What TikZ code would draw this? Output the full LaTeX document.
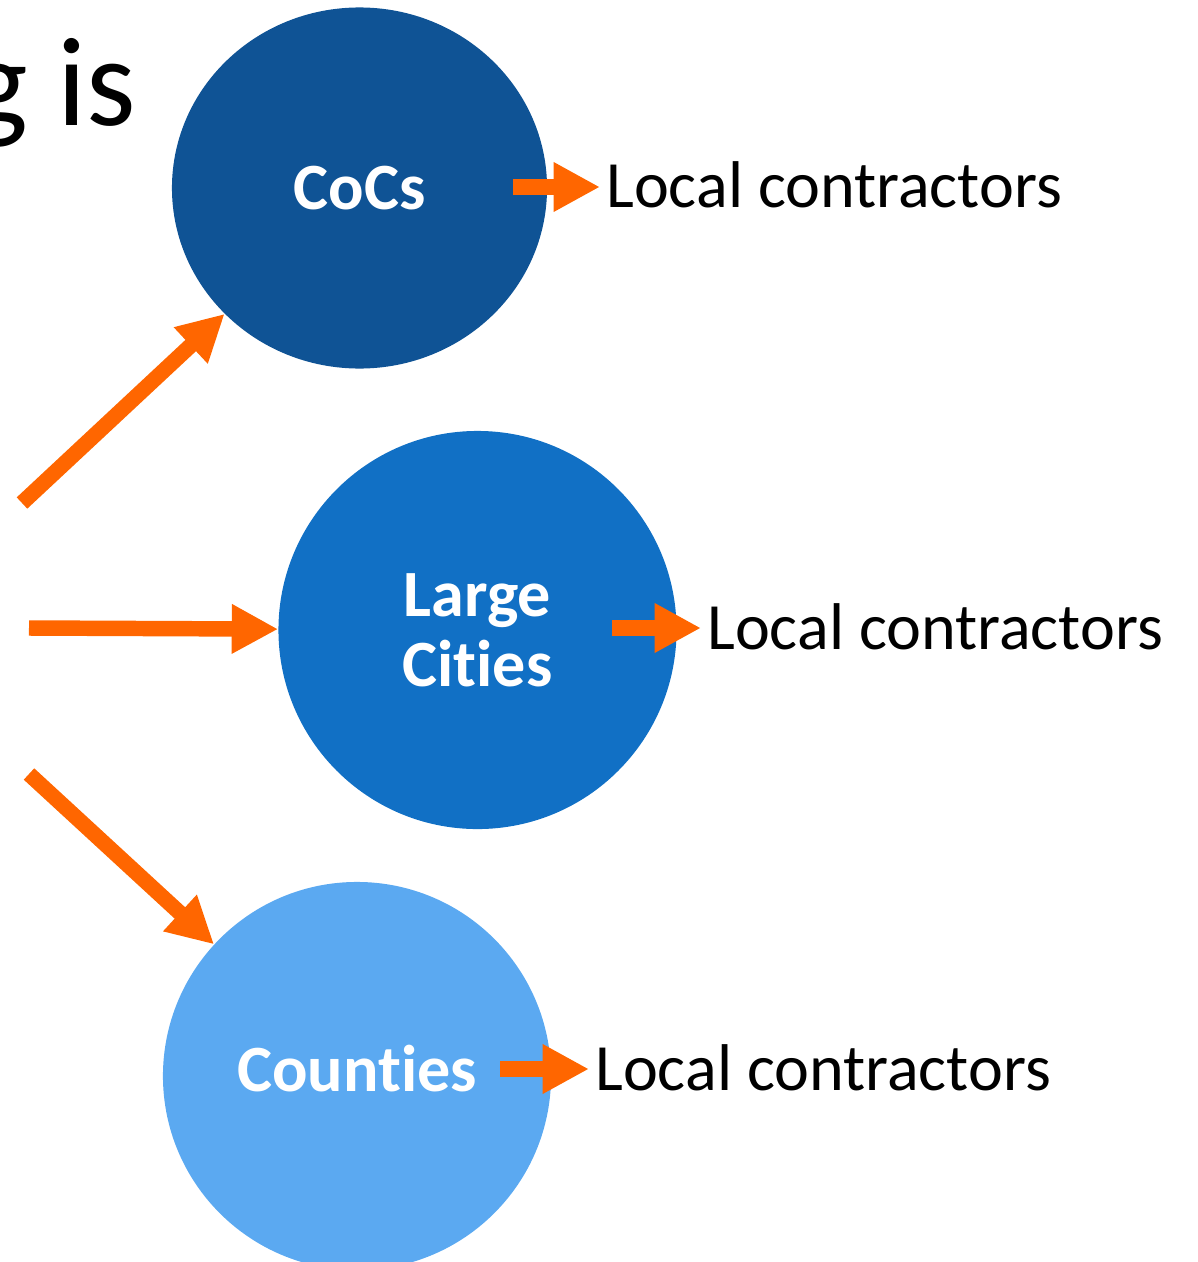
\documentclass[tikz,border=0pt]{standalone}
\usepackage{fontspec}
\setmainfont{Carlito}[Ligatures=NoCommon]
\usetikzlibrary{arrows.meta,shapes.geometric}
\definecolor{cocblue}{HTML}{0F5395}
\definecolor{cityblue}{HTML}{1170C5}
\definecolor{countyblue}{HTML}{5BA9F1}
\definecolor{arrorange}{HTML}{FF6600}

\begin{document}
\begin{tikzpicture}[x=0.025cm,y=-0.025cm,
    blob/.style={ellipse,inner sep=0pt,text=white,align=center,
        font=\fontsize{47}{50}\selectfont\bfseries},
    lc/.style={anchor=base west,inner ysep=0pt,inner xsep=4.3pt,
        font=\fontsize{47}{50}\selectfont},
    fat/.style={arrorange,line width=11pt,-{Triangle[length=33pt,width=33pt]}}]
    \useasboundingbox (0,0) rectangle (1197,1262);

    % heading runs off the left edge
    \node[anchor=base east,inner sep=0pt,font=\fontsize{90}{100}\selectfont] (head) at (136,125) {g is};

    % the three bodies
    \node[blob,fill=cocblue,minimum width=9.375cm,minimum height=9.025cm] (cocs) at (359.5,188) {CoCs};
    \node[blob,fill=cityblue,minimum width=9.95cm,minimum height=9.95cm] (cities) at (477.5,630) {Large\\Cities};
    \node[blob,fill=countyblue,minimum width=9.7cm,minimum height=9.7cm,text depth=11pt] (counties) at (357,1076) {Counties};

    % labels on the right
    \node[lc] (cocs-lc) at (600,207) {Local contractors};
    \node[lc] (cities-lc) at (701,649) {Local contractors};
    \node[lc] (counties-lc) at (589,1090) {Local contractors};

    % incoming arrows
    \coordinate (in-top) at (22,503);
    \coordinate (in-mid) at (29,628);
    \coordinate (in-low) at (29,774);
    \draw[fat] (in-top) -- (cocs);
    \draw[fat] (in-mid) -- (cities);
    \draw[fat] (in-low) -- (counties);

    % outgoing arrows
    \coordinate (cocs-out) at (513,187);
    \coordinate (cities-out) at (612,628);
    \coordinate (counties-out) at (500,1069);
    \draw[fat] (cocs-out) -- (cocs-lc.west |- cocs-out);
    \draw[fat] (cities-out) -- (cities-lc.west |- cities-out);
    \draw[fat] (counties-out) -- (counties-lc.west |- counties-out);
\end{tikzpicture}
\end{document}
